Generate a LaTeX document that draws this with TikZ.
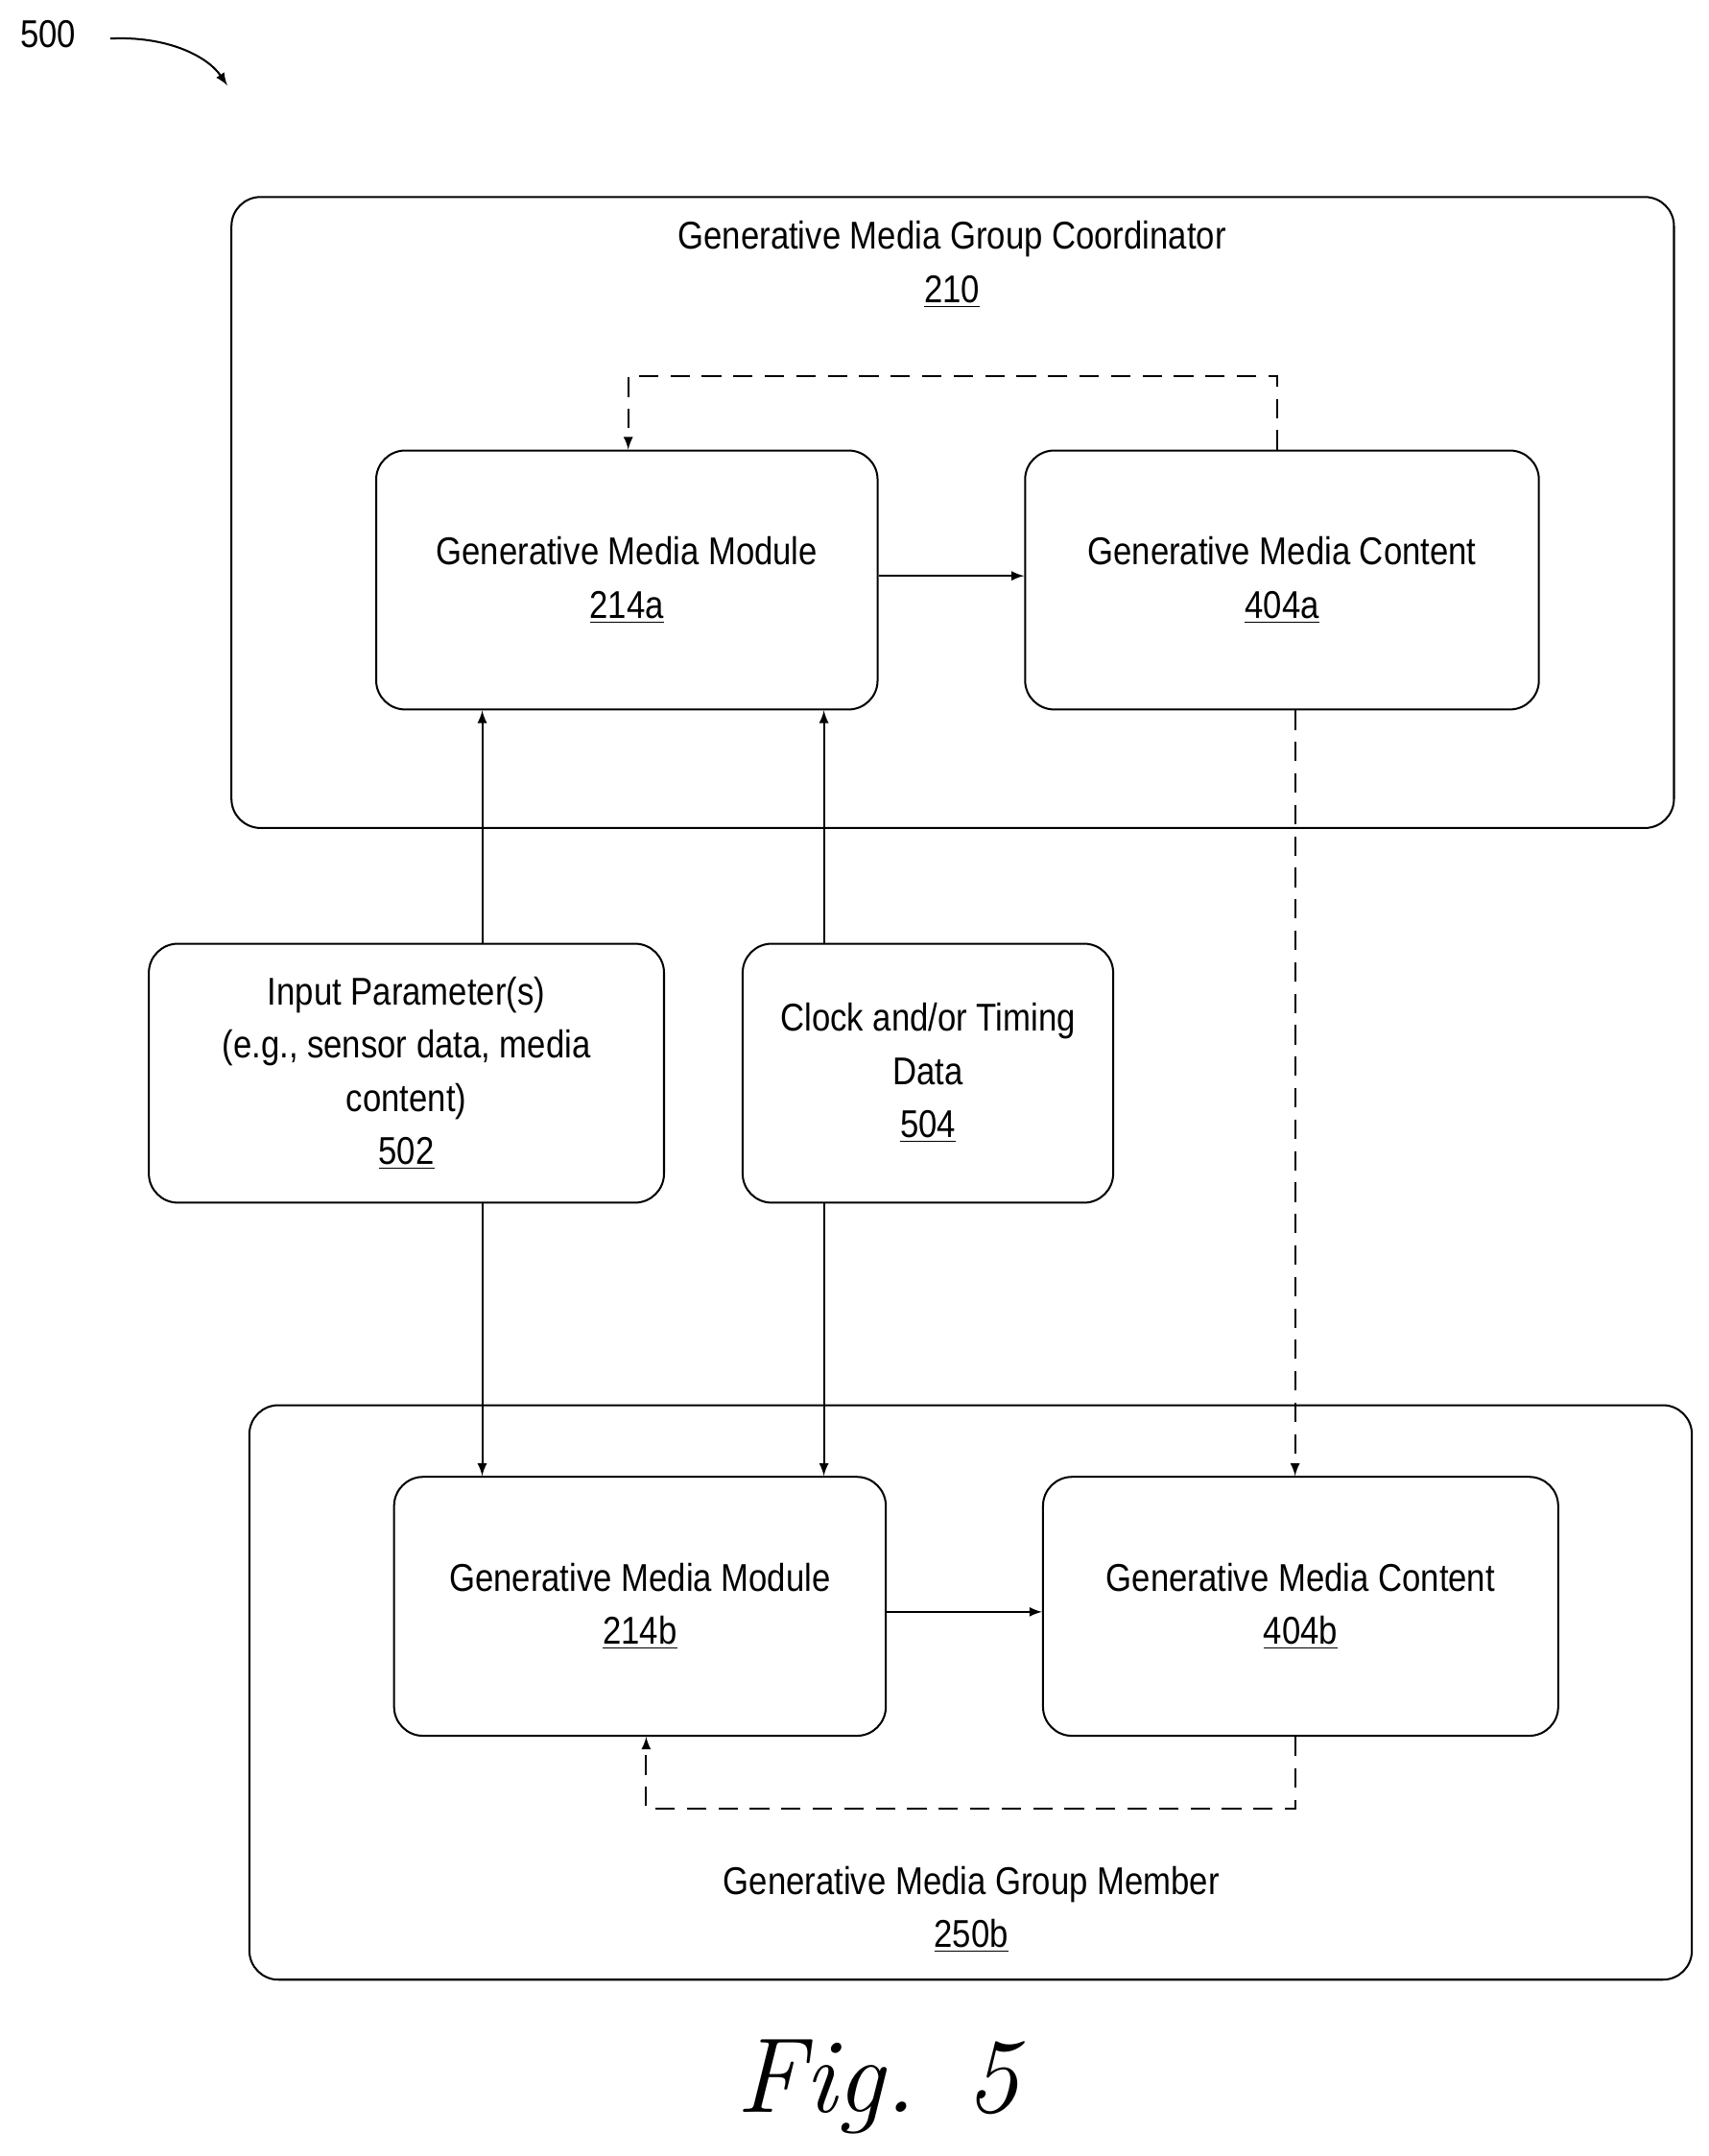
\documentclass[tikz,border=0pt]{standalone}
\usepackage{fontspec}
\setmainfont{Liberation Sans}[FakeStretch=0.86]
\newfontfamily\figfont{Latin Modern Roman}
\usetikzlibrary{arrows, positioning, calc}
\tikzset{
  box/.style={rectangle, rounded corners=12pt, draw, thick, align=center, inner sep=2pt},
  outer/.style={rectangle, rounded corners=12pt, draw, thick},
  flow/.style={-latex, thick},
  back/.style={-latex, thick, dashed, dash pattern=on 8pt off 5pt},
}
\begin{document}
\begin{tikzpicture}[x=0.02cm, y=-0.02cm, font=\fontsize{16}{22}\selectfont]
  \useasboundingbox (0,0) rectangle (1240,1565);
  % reference label
  \node (fig-ref) at (35,25) {500};
  \coordinate (ref-tip) at (165,62);
  \draw[-latex, thick] (80,28) .. controls (120,26) and (150,40) .. (ref-tip);
  % coordinator
  \draw[outer] (168,143) rectangle (1215,601);
  \node[align=center] (coord) at (691,192) {Generative Media Group Coordinator\\\underline{210}};
  \node[box, minimum width=364\pgflinewidth*0+7.28cm, minimum height=3.76cm] (mod-a) at (455,421) {Generative Media Module\\\underline{214a}};
  \node[box, minimum width=7.46cm, minimum height=3.76cm] (con-a) at (930.5,421) {Generative Media Content\\\underline{404a}};
  % inputs
  \node[box, minimum width=7.48cm, minimum height=3.76cm] (inp) at (295,779) {Input Parameter(s)\\(e.g., sensor data, media\\content)\\\underline{502}};
  \node[box, minimum width=5.38cm, minimum height=3.76cm] (clk) at (673.5,779) {Clock and/or Timing\\Data\\\underline{504}};
  % member
  \draw[outer] (181,1020) rectangle (1228,1437);
  \node[align=center] (member) at (705,1386) {Generative Media Group Member\\\underline{250b}};
  \node[box, minimum width=7.14cm, minimum height=3.76cm] (mod-b) at (464.5,1166) {Generative Media Module\\\underline{214b}};
  \node[box, minimum width=7.48cm, minimum height=3.76cm] (con-b) at (944,1166) {Generative Media Content\\\underline{404b}};
  \node (fig) at (637,1515) {\figfont\itshape\fontsize{44}{50}\selectfont Fig. 5};
  % connectors
  \coordinate (xa) at (350,0);
  \coordinate (xb) at (598,0);
  \coordinate (xc) at (940,0);
  \draw[flow] (mod-a.east |- 0,418) -- (con-a.west |- 0,418);
  \draw[flow] (mod-b.east |- 0,1170) -- (con-b.west |- 0,1170);
  \draw[flow] (inp.north -| xa) -- (mod-a.south -| xa);
  \draw[flow] (clk.north -| xb) -- (mod-a.south -| xb);
  \draw[flow] (inp.south -| xa) -- (mod-b.north -| xa);
  \draw[flow] (clk.south -| xb) -- (mod-b.north -| xb);
  \draw[back] (con-a.south -| xc) -- (con-b.north -| xc);
  \draw[back] (con-a.north -| 927,0) -- (927,273) -- (456,273) -- (mod-a.north -| 456,0);
  \draw[back] (con-b.south -| xc) -- (940,1313) -- (469,1313) -- (mod-b.south -| 469,0);
\end{tikzpicture}
\end{document}
